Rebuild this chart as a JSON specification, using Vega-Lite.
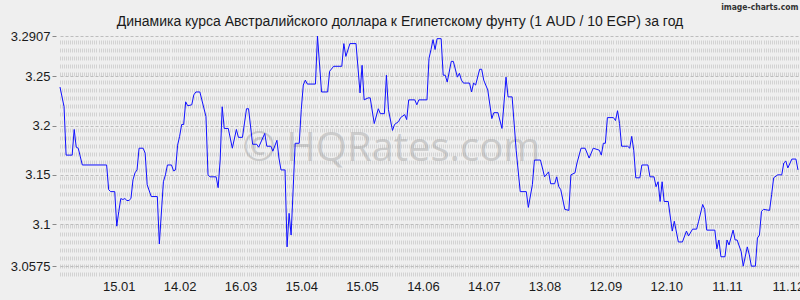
{
  "$schema": "https://vega.github.io/schema/vega-lite/v6.json",
  "width": 740,
  "height": 240,
  "autosize": {"type": "none"},
  "padding": {"left": 60, "top": 36, "right": 0, "bottom": 24},
  "background": "#efefef",
  "config": {"view": {"stroke": null}, "font": "Liberation Sans"},
  "title": {
    "text": "Динамика курса Австралийского доллара к Египетскому фунту (1 AUD / 10 EGP) за год",
    "font": "Liberation Sans",
    "fontSize": 14,
    "fontWeight": "normal",
    "color": "#1a1a1a",
    "anchor": "middle",
    "frame": "group",
    "dx": -30,
    "baseline": "alphabetic",
    "offset": -38
  },
  "resolve": {"axis": {"x": "independent", "y": "independent"}},
  "layer": [
    {
      "data": {"values": [{"label": "© HQRates.com"}]},
      "mark": {"type": "text", "font": "Open Sans", "fontSize": 40, "fill": "#999999", "opacity": 0.4, "align": "center", "baseline": "alphabetic"},
      "encoding": {
        "x": {
          "datum": {"year": 2025, "month": 5, "date": 29, "hours": 12, "utc": true},
          "type": "temporal",
          "scale": {"type": "utc", "domain": [{"year": 2024, "month": 12, "date": 17, "utc": true}, {"year": 2025, "month": 12, "date": 17, "utc": true}]},
          "axis": {
            "orient": "bottom",
            "values": [
              {"year": 2025, "month": 1, "date": 15, "utc": true},
              {"year": 2025, "month": 2, "date": 14, "utc": true},
              {"year": 2025, "month": 3, "date": 16, "utc": true},
              {"year": 2025, "month": 4, "date": 15, "utc": true},
              {"year": 2025, "month": 5, "date": 15, "utc": true},
              {"year": 2025, "month": 6, "date": 14, "utc": true},
              {"year": 2025, "month": 7, "date": 14, "utc": true},
              {"year": 2025, "month": 8, "date": 13, "utc": true},
              {"year": 2025, "month": 9, "date": 12, "utc": true},
              {"year": 2025, "month": 10, "date": 12, "utc": true},
              {"year": 2025, "month": 11, "date": 11, "utc": true},
              {"year": 2025, "month": 12, "date": 11, "utc": true}
            ],
            "labelExpr": "utcFormat(datum.value, '%d.%m')",
            "grid": false,
            "ticks": false,
            "domain": false,
            "labelFlush": false,
            "labelOverlap": false,
            "labelPadding": 4,
            "labelFontSize": 13,
            "labelColor": "#1a1a1a",
            "labelFont": "Liberation Sans",
            "title": null
          }
        },
        "y": {"datum": 3.164, "type": "quantitative", "scale": {"domain": [3.0475, 3.2907], "zero": false, "nice": false}, "axis": null},
        "text": {"field": "label"}
      }
    },
    {
      "data": {"values": [
        {"date": "2024-12-17", "rate": 3.239},
        {"date": "2024-12-19", "rate": 3.219},
        {"date": "2024-12-20", "rate": 3.170},
        {"date": "2024-12-23", "rate": 3.170},
        {"date": "2024-12-24", "rate": 3.196},
        {"date": "2024-12-25", "rate": 3.178},
        {"date": "2024-12-26", "rate": 3.177},
        {"date": "2024-12-28", "rate": 3.160},
        {"date": "2025-01-09", "rate": 3.160},
        {"date": "2025-01-10", "rate": 3.135},
        {"date": "2025-01-11", "rate": 3.133},
        {"date": "2025-01-13", "rate": 3.133},
        {"date": "2025-01-14", "rate": 3.098},
        {"date": "2025-01-15", "rate": 3.113},
        {"date": "2025-01-16", "rate": 3.126},
        {"date": "2025-01-17", "rate": 3.125},
        {"date": "2025-01-18", "rate": 3.126},
        {"date": "2025-01-19", "rate": 3.124},
        {"date": "2025-01-20", "rate": 3.124},
        {"date": "2025-01-21", "rate": 3.126},
        {"date": "2025-01-22", "rate": 3.145},
        {"date": "2025-01-23", "rate": 3.152},
        {"date": "2025-01-24", "rate": 3.155},
        {"date": "2025-01-25", "rate": 3.177},
        {"date": "2025-01-27", "rate": 3.177},
        {"date": "2025-01-28", "rate": 3.172},
        {"date": "2025-01-29", "rate": 3.140},
        {"date": "2025-01-31", "rate": 3.128},
        {"date": "2025-02-03", "rate": 3.128},
        {"date": "2025-02-04", "rate": 3.080},
        {"date": "2025-02-06", "rate": 3.143},
        {"date": "2025-02-07", "rate": 3.150},
        {"date": "2025-02-08", "rate": 3.160},
        {"date": "2025-02-10", "rate": 3.160},
        {"date": "2025-02-11", "rate": 3.154},
        {"date": "2025-02-12", "rate": 3.155},
        {"date": "2025-02-13", "rate": 3.180},
        {"date": "2025-02-14", "rate": 3.189},
        {"date": "2025-02-15", "rate": 3.201},
        {"date": "2025-02-16", "rate": 3.201},
        {"date": "2025-02-17", "rate": 3.224},
        {"date": "2025-02-18", "rate": 3.220},
        {"date": "2025-02-20", "rate": 3.221},
        {"date": "2025-02-21", "rate": 3.231},
        {"date": "2025-02-22", "rate": 3.234},
        {"date": "2025-02-24", "rate": 3.234},
        {"date": "2025-02-27", "rate": 3.209},
        {"date": "2025-02-28", "rate": 3.150},
        {"date": "2025-03-01", "rate": 3.148},
        {"date": "2025-03-04", "rate": 3.148},
        {"date": "2025-03-05", "rate": 3.137},
        {"date": "2025-03-06", "rate": 3.165},
        {"date": "2025-03-07", "rate": 3.219},
        {"date": "2025-03-08", "rate": 3.197},
        {"date": "2025-03-10", "rate": 3.197},
        {"date": "2025-03-12", "rate": 3.177},
        {"date": "2025-03-14", "rate": 3.196},
        {"date": "2025-03-15", "rate": 3.188},
        {"date": "2025-03-17", "rate": 3.188},
        {"date": "2025-03-19", "rate": 3.217},
        {"date": "2025-03-20", "rate": 3.217},
        {"date": "2025-03-22", "rate": 3.181},
        {"date": "2025-03-24", "rate": 3.181},
        {"date": "2025-03-25", "rate": 3.178},
        {"date": "2025-03-28", "rate": 3.192},
        {"date": "2025-03-29", "rate": 3.179},
        {"date": "2025-03-31", "rate": 3.179},
        {"date": "2025-04-01", "rate": 3.174},
        {"date": "2025-04-03", "rate": 3.185},
        {"date": "2025-04-04", "rate": 3.167},
        {"date": "2025-04-05", "rate": 3.155},
        {"date": "2025-04-07", "rate": 3.155},
        {"date": "2025-04-08", "rate": 3.077},
        {"date": "2025-04-09", "rate": 3.111},
        {"date": "2025-04-10", "rate": 3.089},
        {"date": "2025-04-12", "rate": 3.182},
        {"date": "2025-04-14", "rate": 3.182},
        {"date": "2025-04-15", "rate": 3.216},
        {"date": "2025-04-16", "rate": 3.241},
        {"date": "2025-04-17", "rate": 3.246},
        {"date": "2025-04-18", "rate": 3.242},
        {"date": "2025-04-22", "rate": 3.242},
        {"date": "2025-04-23", "rate": 3.2907},
        {"date": "2025-04-25", "rate": 3.234},
        {"date": "2025-04-28", "rate": 3.234},
        {"date": "2025-04-29", "rate": 3.255},
        {"date": "2025-05-01", "rate": 3.260},
        {"date": "2025-05-05", "rate": 3.260},
        {"date": "2025-05-06", "rate": 3.283},
        {"date": "2025-05-07", "rate": 3.270},
        {"date": "2025-05-09", "rate": 3.283},
        {"date": "2025-05-12", "rate": 3.283},
        {"date": "2025-05-14", "rate": 3.233},
        {"date": "2025-05-15", "rate": 3.261},
        {"date": "2025-05-16", "rate": 3.226},
        {"date": "2025-05-18", "rate": 3.228},
        {"date": "2025-05-19", "rate": 3.228},
        {"date": "2025-05-21", "rate": 3.202},
        {"date": "2025-05-23", "rate": 3.217},
        {"date": "2025-05-24", "rate": 3.212},
        {"date": "2025-05-26", "rate": 3.212},
        {"date": "2025-05-27", "rate": 3.251},
        {"date": "2025-05-28", "rate": 3.216},
        {"date": "2025-05-30", "rate": 3.195},
        {"date": "2025-05-31", "rate": 3.201},
        {"date": "2025-06-02", "rate": 3.204},
        {"date": "2025-06-03", "rate": 3.208},
        {"date": "2025-06-05", "rate": 3.211},
        {"date": "2025-06-06", "rate": 3.206},
        {"date": "2025-06-07", "rate": 3.226},
        {"date": "2025-06-10", "rate": 3.226},
        {"date": "2025-06-11", "rate": 3.221},
        {"date": "2025-06-12", "rate": 3.226},
        {"date": "2025-06-16", "rate": 3.226},
        {"date": "2025-06-17", "rate": 3.268},
        {"date": "2025-06-18", "rate": 3.277},
        {"date": "2025-06-19", "rate": 3.287},
        {"date": "2025-06-20", "rate": 3.277},
        {"date": "2025-06-21", "rate": 3.288},
        {"date": "2025-06-23", "rate": 3.288},
        {"date": "2025-06-24", "rate": 3.251},
        {"date": "2025-06-25", "rate": 3.251},
        {"date": "2025-06-26", "rate": 3.244},
        {"date": "2025-06-28", "rate": 3.265},
        {"date": "2025-06-29", "rate": 3.265},
        {"date": "2025-07-01", "rate": 3.249},
        {"date": "2025-07-02", "rate": 3.253},
        {"date": "2025-07-03", "rate": 3.246},
        {"date": "2025-07-04", "rate": 3.243},
        {"date": "2025-07-07", "rate": 3.243},
        {"date": "2025-07-08", "rate": 3.234},
        {"date": "2025-07-09", "rate": 3.243},
        {"date": "2025-07-10", "rate": 3.241},
        {"date": "2025-07-12", "rate": 3.257},
        {"date": "2025-07-13", "rate": 3.257},
        {"date": "2025-07-14", "rate": 3.246},
        {"date": "2025-07-16", "rate": 3.236},
        {"date": "2025-07-18", "rate": 3.207},
        {"date": "2025-07-19", "rate": 3.213},
        {"date": "2025-07-21", "rate": 3.213},
        {"date": "2025-07-23", "rate": 3.197},
        {"date": "2025-07-25", "rate": 3.249},
        {"date": "2025-07-26", "rate": 3.229},
        {"date": "2025-07-28", "rate": 3.229},
        {"date": "2025-07-30", "rate": 3.175},
        {"date": "2025-08-01", "rate": 3.133},
        {"date": "2025-08-04", "rate": 3.133},
        {"date": "2025-08-05", "rate": 3.117},
        {"date": "2025-08-07", "rate": 3.140},
        {"date": "2025-08-08", "rate": 3.165},
        {"date": "2025-08-11", "rate": 3.165},
        {"date": "2025-08-13", "rate": 3.148},
        {"date": "2025-08-15", "rate": 3.153},
        {"date": "2025-08-16", "rate": 3.141},
        {"date": "2025-08-18", "rate": 3.141},
        {"date": "2025-08-19", "rate": 3.148},
        {"date": "2025-08-20", "rate": 3.138},
        {"date": "2025-08-21", "rate": 3.135},
        {"date": "2025-08-23", "rate": 3.115},
        {"date": "2025-08-25", "rate": 3.114},
        {"date": "2025-08-26", "rate": 3.150},
        {"date": "2025-08-28", "rate": 3.152},
        {"date": "2025-08-29", "rate": 3.162},
        {"date": "2025-08-31", "rate": 3.177},
        {"date": "2025-09-02", "rate": 3.177},
        {"date": "2025-09-04", "rate": 3.167},
        {"date": "2025-09-06", "rate": 3.177},
        {"date": "2025-09-09", "rate": 3.175},
        {"date": "2025-09-10", "rate": 3.170},
        {"date": "2025-09-11", "rate": 3.182},
        {"date": "2025-09-12", "rate": 3.182},
        {"date": "2025-09-13", "rate": 3.208},
        {"date": "2025-09-16", "rate": 3.208},
        {"date": "2025-09-17", "rate": 3.205},
        {"date": "2025-09-18", "rate": 3.215},
        {"date": "2025-09-19", "rate": 3.202},
        {"date": "2025-09-20", "rate": 3.179},
        {"date": "2025-09-23", "rate": 3.179},
        {"date": "2025-09-24", "rate": 3.177},
        {"date": "2025-09-25", "rate": 3.189},
        {"date": "2025-09-26", "rate": 3.175},
        {"date": "2025-09-27", "rate": 3.147},
        {"date": "2025-09-29", "rate": 3.147},
        {"date": "2025-09-30", "rate": 3.160},
        {"date": "2025-10-03", "rate": 3.160},
        {"date": "2025-10-04", "rate": 3.148},
        {"date": "2025-10-06", "rate": 3.148},
        {"date": "2025-10-07", "rate": 3.138},
        {"date": "2025-10-08", "rate": 3.143},
        {"date": "2025-10-09", "rate": 3.123},
        {"date": "2025-10-10", "rate": 3.143},
        {"date": "2025-10-11", "rate": 3.123},
        {"date": "2025-10-13", "rate": 3.123},
        {"date": "2025-10-15", "rate": 3.093},
        {"date": "2025-10-16", "rate": 3.103},
        {"date": "2025-10-18", "rate": 3.082},
        {"date": "2025-10-20", "rate": 3.082},
        {"date": "2025-10-22", "rate": 3.093},
        {"date": "2025-10-23", "rate": 3.088},
        {"date": "2025-10-25", "rate": 3.095},
        {"date": "2025-10-27", "rate": 3.095},
        {"date": "2025-10-28", "rate": 3.103},
        {"date": "2025-10-30", "rate": 3.120},
        {"date": "2025-10-31", "rate": 3.115},
        {"date": "2025-11-01", "rate": 3.094},
        {"date": "2025-11-05", "rate": 3.094},
        {"date": "2025-11-06", "rate": 3.075},
        {"date": "2025-11-07", "rate": 3.084},
        {"date": "2025-11-08", "rate": 3.067},
        {"date": "2025-11-10", "rate": 3.067},
        {"date": "2025-11-11", "rate": 3.084},
        {"date": "2025-11-12", "rate": 3.079},
        {"date": "2025-11-14", "rate": 3.094},
        {"date": "2025-11-15", "rate": 3.084},
        {"date": "2025-11-16", "rate": 3.084},
        {"date": "2025-11-18", "rate": 3.072},
        {"date": "2025-11-19", "rate": 3.0575},
        {"date": "2025-11-21", "rate": 3.077},
        {"date": "2025-11-22", "rate": 3.069},
        {"date": "2025-11-23", "rate": 3.0575},
        {"date": "2025-11-25", "rate": 3.0575},
        {"date": "2025-11-26", "rate": 3.086},
        {"date": "2025-11-27", "rate": 3.089},
        {"date": "2025-11-28", "rate": 3.113},
        {"date": "2025-11-29", "rate": 3.115},
        {"date": "2025-12-02", "rate": 3.114},
        {"date": "2025-12-03", "rate": 3.130},
        {"date": "2025-12-04", "rate": 3.147},
        {"date": "2025-12-06", "rate": 3.150},
        {"date": "2025-12-08", "rate": 3.150},
        {"date": "2025-12-09", "rate": 3.162},
        {"date": "2025-12-10", "rate": 3.164},
        {"date": "2025-12-11", "rate": 3.157},
        {"date": "2025-12-13", "rate": 3.166},
        {"date": "2025-12-15", "rate": 3.166},
        {"date": "2025-12-16", "rate": 3.155}
      ]},
      "mark": {"type": "line", "color": "#1010ff", "strokeWidth": 1},
      "encoding": {
        "x": {
          "field": "date",
          "type": "temporal",
          "scale": {"type": "utc", "domain": [{"year": 2024, "month": 12, "date": 17, "utc": true}, {"year": 2025, "month": 12, "date": 17, "utc": true}]},
          "axis": {
            "orient": "top",
            "tickCount": {"interval": "day", "step": 1},
            "labels": false,
            "ticks": false,
            "domain": false,
            "grid": true,
            "gridColor": "#d2d2d2",
            "gridWidth": 1,
            "gridDash": [4, 4],
            "title": "image-charts.com",
            "titleFont": "DejaVu Sans Condensed",
            "titleFontSize": 8.5,
            "titleFontWeight": "bold",
            "titleColor": "#333333",
            "titleAlign": "right",
            "titleBaseline": "alphabetic",
            "titleAngle": 0,
            "titleX": 738,
            "titleY": -27
          }
        },
        "y": {
          "field": "rate",
          "type": "quantitative",
          "scale": {"domain": [3.0475, 3.2907], "zero": false, "nice": false},
          "axis": {
            "orient": "left",
            "values": [3.0575, 3.1, 3.15, 3.2, 3.25, 3.2907],
            "format": ".5~g",
            "grid": true,
            "gridColor": "#bdbdbd",
            "gridDash": [3, 2],
            "domain": false,
            "ticks": true,
            "tickColor": "#888888",
            "tickSize": 4,
            "offset": 4,
            "labelPadding": 2,
            "labelFontSize": 13,
            "labelFont": "Liberation Sans",
            "labelColor": "#1a1a1a",
            "title": null
          }
        }
      }
    }
  ]
}
